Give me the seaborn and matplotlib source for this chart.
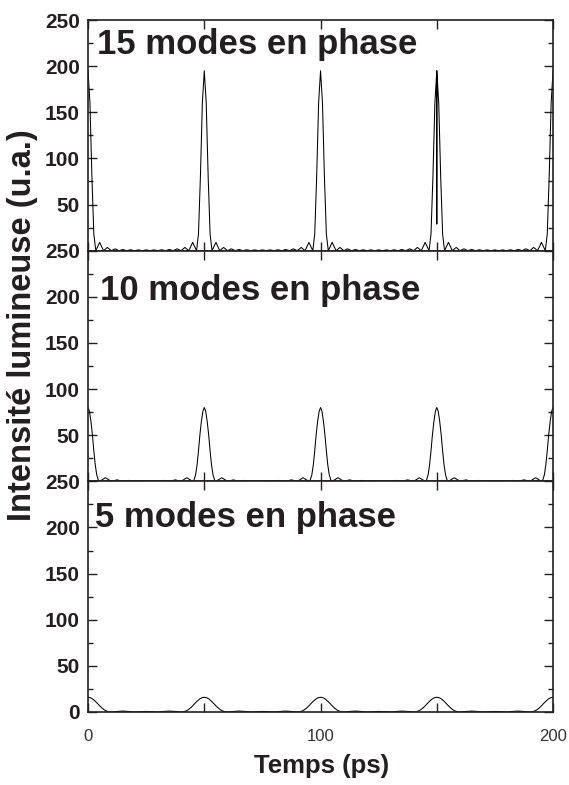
import matplotlib
matplotlib.use("Agg")
import matplotlib.pyplot as plt
import seaborn as sns
from matplotlib.ticker import MultipleLocator

# ----------------------------
# Data (time in ps, intensity in a.u.)
# ----------------------------
t15 = [0, 0.83, 1.67, 2.5, 3.33, 5, 6.67, 8.33, 10, 11.67, 13.33, 15, 16.67, 18.33, 20, 21.67, 23.33,
       25, 26.67, 28.33, 30, 31.67, 33.33, 35, 36.67, 38.33, 40, 41.67, 43.33, 45, 46.67, 47.5, 48.33, 49.17,
       50, 50.83, 51.67, 52.5, 53.33, 55, 56.67, 58.33, 60, 61.67, 63.33, 65, 66.67, 68.33, 70, 71.67, 73.33,
       75, 76.67, 78.33, 80, 81.67, 83.33, 85, 86.67, 88.33, 90, 91.67, 93.33, 95, 96.67, 97.5, 98.33, 99.17,
       100, 100.83, 101.67, 102.5, 103.33, 105, 106.67, 108.33, 110, 111.67, 113.33, 115, 116.67, 118.33, 120,
       121.67, 123.33, 125, 126.67, 128.33, 130, 131.67, 133.33, 135, 136.67, 138.33, 140, 141.67, 143.33, 145,
       146.67, 147.5, 148.33, 149.17,
       150, 150, 150, 150.83, 151.67, 152.5, 153.33, 155, 156.67, 158.33, 160, 161.67, 163.33, 165, 166.67,
       168.33, 170, 171.67, 173.33, 175, 176.67, 178.33, 180, 181.67, 183.33, 185, 186.67, 188.33, 190, 191.67,
       193.33, 195, 196.67, 197.5, 198.33, 199.17, 200]
i15 = [195, 160, 80, 18, 0, 9, 0, 3.5, 0, 2, 0, 1.3, 0, 1, 0, 0.9, 0,
       0.9, 0, 0.9, 0, 1, 0, 1.3, 0, 2, 0, 3.5, 0, 9, 0, 18, 80, 160,
       195, 160, 80, 18, 0, 9, 0, 3.5, 0, 2, 0, 1.3, 0, 1, 0, 0.9, 0,
       0.9, 0, 0.9, 0, 1, 0, 1.3, 0, 2, 0, 3.5, 0, 9, 0, 18, 80, 160,
       195, 160, 80, 18, 0, 9, 0, 3.5, 0, 2, 0, 1.3, 0, 1, 0,
       0.9, 0, 0.9, 0, 0.9, 0, 1, 0, 1.3, 0, 2, 0, 3.5, 0, 9,
       0, 18, 80, 160,
       195, 29, 195, 160, 80, 18, 0, 9, 0, 3.5, 0, 2, 0, 1.3, 0,
       1, 0, 0.9, 0, 0.9, 0, 0.9, 0, 1, 0, 1.3, 0, 2, 0, 3.5,
       0, 9, 0, 18, 80, 160, 195]

t10 = [0, 0.6, 1.25, 1.9, 2.5, 3.1, 3.75, 4.4, 5, 7.5, 10, 12.5, 15, 17.5, 20, 22.5, 25, 27.5, 30, 32.5,
       35, 37.5, 40, 42.5, 45, 45.6, 46.25, 46.9, 47.5, 48.1, 48.75, 49.4,
       50, 50.6, 51.25, 51.9, 52.5, 53.1, 53.75, 54.4, 55, 57.5, 60, 62.5, 65, 67.5, 70, 72.5, 75, 77.5, 80,
       82.5, 85, 87.5, 90, 92.5, 95, 95.6, 96.25, 96.9, 97.5, 98.1, 98.75, 99.4,
       100, 100.6, 101.25, 101.9, 102.5, 103.1, 103.75, 104.4, 105, 107.5, 110, 112.5, 115, 117.5, 120, 122.5,
       125, 127.5, 130, 132.5, 135, 137.5, 140, 142.5, 145, 145.6, 146.25, 146.9, 147.5, 148.1, 148.75, 149.4,
       150, 150.6, 151.25, 151.9, 152.5, 153.1, 153.75, 154.4, 155, 157.5, 160, 162.5, 165, 167.5, 170, 172.5,
       175, 177.5, 180, 182.5, 185, 187.5, 190, 192.5, 195, 195.6, 196.25, 196.9, 197.5, 198.1, 198.75, 199.4,
       200]
i10 = [80, 76, 65, 50, 33, 18, 7, 1.6, 0, 3.9, 0, 1.6, 0, 1, 0, 0.8, 0, 0.8, 0, 1,
       0, 1.6, 0, 3.9, 0, 1.6, 7, 18, 33, 50, 65, 76,
       80, 76, 65, 50, 33, 18, 7, 1.6, 0, 3.9, 0, 1.6, 0, 1, 0, 0.8, 0, 0.8, 0,
       1, 0, 1.6, 0, 3.9, 0, 1.6, 7, 18, 33, 50, 65, 76,
       80, 76, 65, 50, 33, 18, 7, 1.6, 0, 3.9, 0, 1.6, 0, 1, 0, 0.8,
       0, 0.8, 0, 1, 0, 1.6, 0, 3.9, 0, 1.6, 7, 18, 33, 50, 65, 76,
       80, 76, 65, 50, 33, 18, 7, 1.6, 0, 3.9, 0, 1.6, 0, 1, 0, 0.8,
       0, 0.8, 0, 1, 0, 1.6, 0, 3.9, 0, 1.6, 7, 18, 33, 50, 65, 76,
       80]

t5 = [0, 1, 2, 3, 4, 5, 6, 7, 8, 9, 10, 12.5, 15, 17.5, 20, 22.5, 25, 27.5, 30, 32.5, 35, 37.5,
      40, 41, 42, 43, 44, 45, 46, 47, 48, 49,
      50, 51, 52, 53, 54, 55, 56, 57, 58, 59, 60, 62.5, 65, 67.5, 70, 72.5, 75, 77.5, 80, 82.5, 85, 87.5,
      90, 91, 92, 93, 94, 95, 96, 97, 98, 99,
      100, 101, 102, 103, 104, 105, 106, 107, 108, 109, 110, 112.5, 115, 117.5, 120, 122.5, 125, 127.5,
      130, 132.5, 135, 137.5, 140, 141, 142, 143, 144, 145, 146, 147, 148, 149,
      150, 151, 152, 153, 154, 155, 156, 157, 158, 159, 160, 162.5, 165, 167.5, 170, 172.5, 175, 177.5,
      180, 182.5, 185, 187.5, 190, 191, 192, 193, 194, 195, 196, 197, 198, 199,
      200]
i5 = [16, 15.5, 14.1, 11.9, 9.4, 6.7, 4.3, 2.3, 1, 0.2, 0, 0.6, 1, 0.6, 0, 0.4, 0.6, 0.4, 0, 0.6, 1, 0.6,
      0, 0.2, 1, 2.3, 4.3, 6.7, 9.4, 11.9, 14.1, 15.5,
      16, 15.5, 14.1, 11.9, 9.4, 6.7, 4.3, 2.3, 1, 0.2, 0, 0.6, 1, 0.6, 0, 0.4, 0.6, 0.4, 0, 0.6, 1, 0.6,
      0, 0.2, 1, 2.3, 4.3, 6.7, 9.4, 11.9, 14.1, 15.5,
      16, 15.5, 14.1, 11.9, 9.4, 6.7, 4.3, 2.3, 1, 0.2, 0, 0.6, 1, 0.6, 0, 0.4, 0.6, 0.4,
      0, 0.6, 1, 0.6, 0, 0.2, 1, 2.3, 4.3, 6.7, 9.4, 11.9, 14.1, 15.5,
      16, 15.5, 14.1, 11.9, 9.4, 6.7, 4.3, 2.3, 1, 0.2, 0, 0.6, 1, 0.6, 0, 0.4, 0.6, 0.4,
      0, 0.6, 1, 0.6, 0, 0.2, 1, 2.3, 4.3, 6.7, 9.4, 11.9, 14.1, 15.5,
      16]

panel_titles = ["15 modes en phase", "10 modes en phase", "5 modes en phase"]
xtick_values = [0, 50, 100, 150, 200]
xtick_labels = ["0", "", "100", "", "200"]
ytick_values = [0, 50, 100, 150, 200, 250]

# ----------------------------
# Figure
# ----------------------------
sns.set_style("ticks")
plt.rcParams["font.family"] = ["Liberation Sans", "DejaVu Sans"]

fig, axes = plt.subplots(3, 1, figsize=(5.69, 7.85), dpi=100, sharex=True,
                         gridspec_kw=dict(hspace=0))
fig.subplots_adjust(left=0.1547, right=0.972, bottom=0.093, top=0.9745)

series = [(t15, i15), (t10, i10), (t5, i5)]
title_pos = [(0.019, 0.853), (0.026, 0.788), (0.015, 0.800)]
ink = "#231f20"

for k, (ax, (t, inten)) in enumerate(zip(axes, series)):
    sns.lineplot(x=t, y=inten, ax=ax, color="black", linewidth=0.75,
                 sort=False, estimator=None)
    ax.set_xlim(0, 200)
    ax.set_ylim(0, 250)
    ax.set_yticks(ytick_values)
    ylabels = [str(v) for v in ytick_values]
    if k < 2:
        ylabels[0] = ""
    ax.set_yticklabels(ylabels, fontsize=15, fontweight="bold", color=ink)
    ax.yaxis.set_minor_locator(MultipleLocator(25))
    ax.set_xticks(xtick_values)
    ax.set_xticklabels(xtick_labels, fontsize=12, color="#333333")
    ax.tick_params(axis="both", which="both", direction="in",
                   top=True, right=True, width=1.0, color=ink)
    ax.tick_params(axis="both", which="major", length=6.5)
    ax.tick_params(axis="both", which="minor", length=3.5)
    ax.tick_params(axis="y", pad=6)
    ax.tick_params(axis="x", pad=12)
    for sp in ax.spines.values():
        sp.set_linewidth(1.2)
        sp.set_color(ink)
    ax.set_xlabel("")
    ax.set_ylabel("")
    ax.text(title_pos[k][0], title_pos[k][1], panel_titles[k], transform=ax.transAxes,
            fontsize=25, fontweight="bold", color=ink, ha="left", va="baseline")

fig.text(0.040, 0.586, "Intensité lumineuse (u.a.)", rotation=90, fontsize=23.5,
         fontweight="bold", color=ink, ha="center", va="center")
fig.text(0.5646, 0.024, "Temps (ps)", fontsize=18.5, fontweight="bold", color=ink,
         ha="center", va="center")

fig.savefig("out.png", dpi=100)
